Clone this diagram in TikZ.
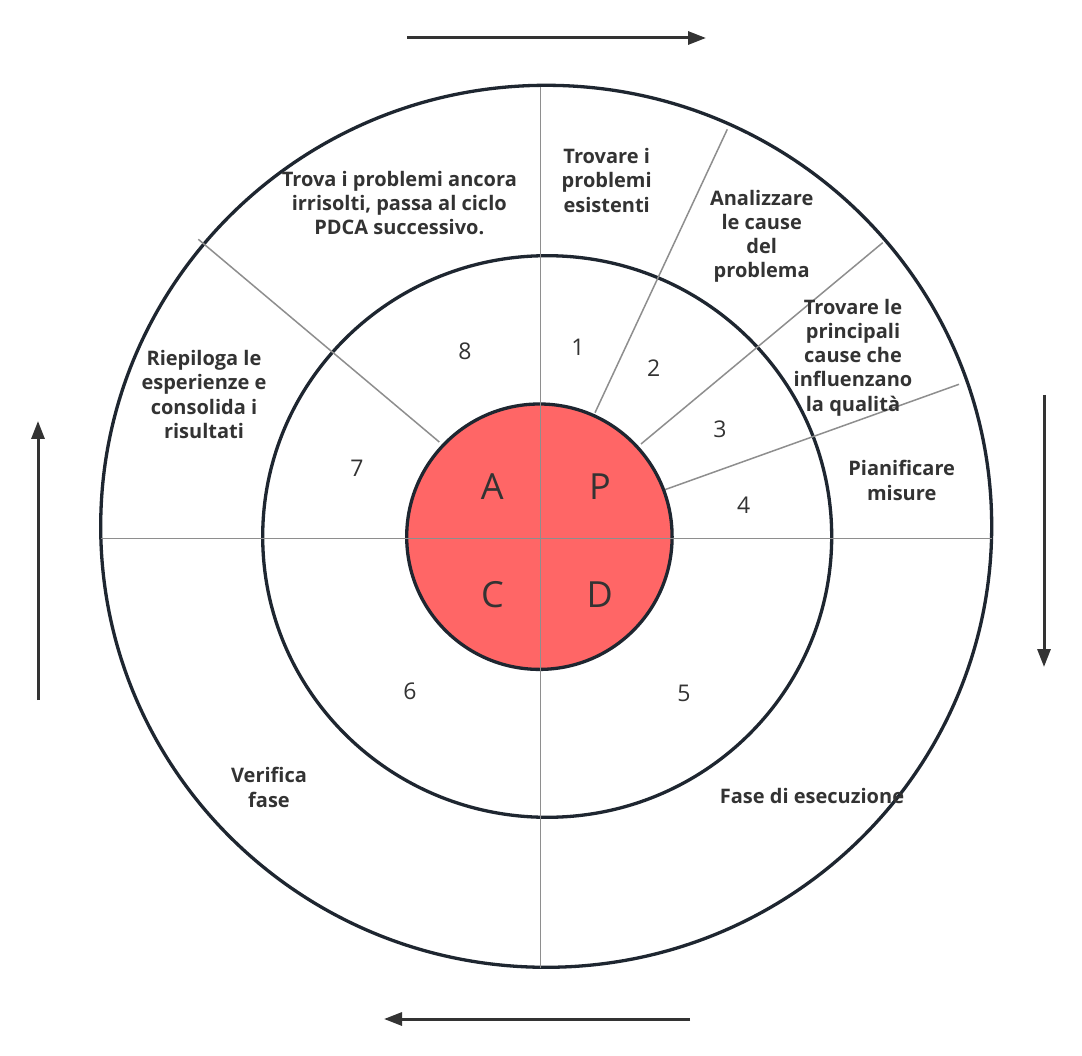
\documentclass[tikz,border=0pt]{standalone}
\usepackage{fontspec}
\setmainfont{Open Sans}
\usetikzlibrary{arrows.meta}
\definecolor{ink}{HTML}{333333}
\definecolor{ringc}{HTML}{1E2630}
\definecolor{divc}{HTML}{8E8E8E}
\definecolor{redfill}{HTML}{FF6666}
\begin{document}
\begin{tikzpicture}[x=1pt,y=-1pt,
  ring/.style={draw=ringc, line width=3.3pt},
  divider/.style={draw=divc, line width=1.5pt},
  flow/.style={draw=ink, line width=3pt, -{Triangle[length=18pt,width=13pt]}},
  label/.style={text=ink, font=\bfseries\fontsize{20}{24.2}\selectfont, align=center, inner sep=0pt},
  num/.style={text=ink, font=\fontsize{23}{27}\selectfont, inner sep=0pt},
  letter/.style={text=ink, font=\fontsize{36}{40}\selectfont, inner sep=0pt}]
\path[use as bounding box, fill=white] (0,0) rectangle (1082,1056);

% rings
\draw[ring, fill=white] (546.2,526.3) ellipse [x radius=445.5pt, y radius=441pt];
\draw[ring] (547.2,536.5) ellipse [x radius=284.5pt, y radius=280.8pt];

% coordinates
\coordinate (top) at (540.7,87);
\coordinate (bot) at (540.7,968);
\coordinate (lft) at (101,538.5);
\coordinate (rgt) at (992,538.5);
\coordinate (r1a) at (595,412.7);
\coordinate (r1b) at (727.3,129.3);
\coordinate (r2a) at (641,444);
\coordinate (r2b) at (882.7,242.7);
\coordinate (r3a) at (664,490);
\coordinate (r3b) at (959,384.3);
\coordinate (r8a) at (439.3,442);
\coordinate (r8b) at (198.3,239.3);

% rays
\draw[divider] (r1a) -- (r1b);
\draw[divider] (r2a) -- (r2b);
\draw[divider] (r3a) -- (r3b);
\draw[divider] (r8a) -- (r8b);

% inner circle
\draw[ring, fill=redfill] (539.4,536.7) circle [radius=132.7pt];

% cross
\draw[divider] (top) -- (bot);
\draw[divider] (lft) -- (rgt);

% letters
\node[letter] (lA) at (492.3,487) {A};
\node[letter] (lP) at (600,487) {P};
\node[letter] (lC) at (492.5,595) {C};
\node[letter] (lD) at (599.7,595) {D};

% numbers
\node[num] (n1) at (578,347) {1};
\node[num] (n2) at (653.7,368) {2};
\node[num] (n3) at (720,429.3) {3};
\node[num] (n4) at (743.7,505.7) {4};
\node[num] (n5) at (684,693) {5};
\node[num] (n6) at (410,691) {6};
\node[num] (n7) at (357,468) {7};
\node[num] (n8) at (465,351) {8};

% labels
\node[label] (t8) at (399.3,203) {Trova i problemi ancora\\irrisolti, passa al ciclo\\PDCA successivo.};
\node[label] (t1) at (606.7,180.5) {Trovare i\\problemi\\esistenti};
\node[label] (t2) at (761.7,236.4) {Analizzare\\le cause\\del\\problema};
\node[label] (t3) at (853,357.5) {Trovare le\\principali\\cause che\\influenzano\\la qualità};
\node[label] (t4) at (901.7,480.5) {Pianificare\\misure};
\node[label] (t7) at (204,394.5) {Riepiloga le\\esperienze e\\consolida i\\risultati};
\node[label] (t6) at (269,787.5) {Verifica\\fase};
\node[label] (t5) at (812,796) {Fase di esecuzione};

% flow arrows
\coordinate (aTs) at (407,38);
\coordinate (aTe) at (706,38);
\coordinate (aRs) at (1044,395);
\coordinate (aRe) at (1044,667);
\coordinate (aBs) at (690,1019);
\coordinate (aBe) at (384,1019);
\coordinate (aLs) at (38,700);
\coordinate (aLe) at (38,421);
\draw[flow] (aTs) -- (aTe);
\draw[flow] (aRs) -- (aRe);
\draw[flow] (aBs) -- (aBe);
\draw[flow] (aLs) -- (aLe);
\end{tikzpicture}
\end{document}
